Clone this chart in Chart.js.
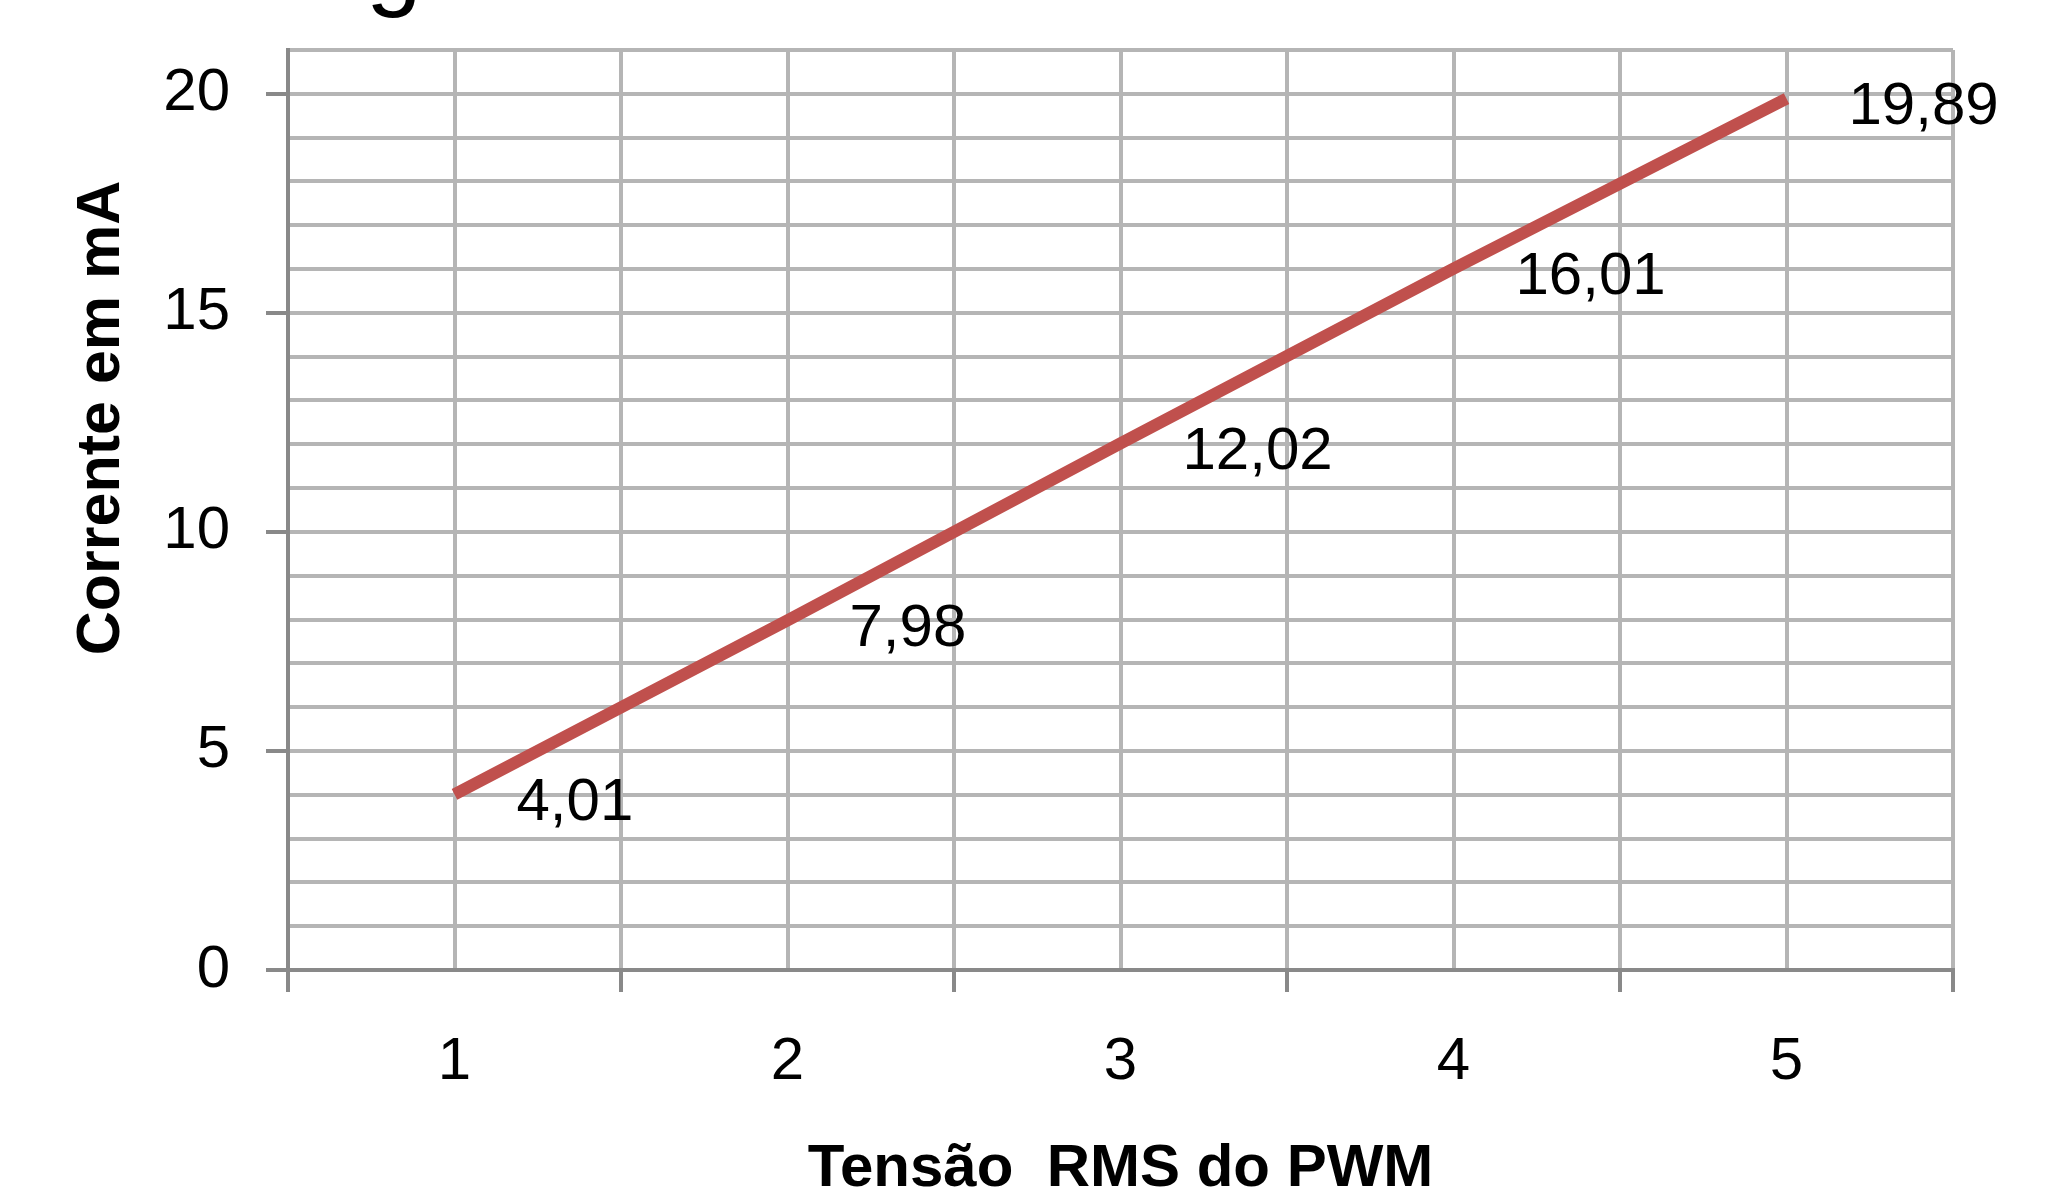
<!DOCTYPE html>
<html>
<head>
<meta charset="utf-8">
<script src="https://cdn.jsdelivr.net/npm/chart.js@4.4.1/dist/chart.umd.min.js"></script>
<style>
    html, body { margin: 0; padding: 0; background: #fff; }
    #wrap { width: 2050px; height: 1190px; }
</style>
</head>
<body>
<div id="wrap"><canvas id="chart" width="2050" height="1190"></canvas></div>
<script>
// Corrente x Tensao RMS do PWM
const categories = ['1', '2', '3', '4', '5'];
const corrente = [4.01, 7.98, 12.02, 16.01, 19.89];
const yTickLabels = [0, 5, 10, 15, 20];
const yMax = 21;

const xTitle = 'Tensão  RMS do PWM';
const yTitle = 'Corrente em mA';
const titleFragment = 'g';

const GRID = '#b5b5b5';
const AXIS = '#898989';
const RED = '#c0504d';
const FONT = '"Liberation Sans", Arial, sans-serif';

const points = categories.map((c, i) => ({ x: i + 1, y: corrente[i] }));

const textPlugin = {
    id: 'excelText',
    afterDatasetsDraw(chart) {
        const ctx = chart.ctx;
        const meta = chart.getDatasetMeta(0);
        ctx.save();
        ctx.fillStyle = '#000';
        ctx.font = '60px ' + FONT;
        ctx.textAlign = 'left';
        ctx.textBaseline = 'middle';
        meta.data.forEach((pt, i) => {
            ctx.fillText(corrente[i].toFixed(2).replace('.', ','), pt.x + 62, pt.y + 9);
        });
        ctx.restore();
    },
    afterDraw(chart) {
        const ctx = chart.ctx;
        const area = chart.chartArea;
        ctx.save();
        ctx.fillStyle = '#000';
        // axis titles
        ctx.font = 'bold 60px ' + FONT;
        ctx.textAlign = 'center';
        ctx.textBaseline = 'alphabetic';
        ctx.fillText(xTitle, (area.left + area.right) / 2, 1186);
        ctx.save();
        ctx.translate(102, 418);
        ctx.rotate(-Math.PI / 2);
        ctx.textBaseline = 'middle';
        ctx.font = 'bold 61px ' + FONT;
        ctx.fillText(yTitle, 0, 0);
        ctx.restore();
        // bottom of the cut-off chart title
        ctx.font = '100px ' + FONT;
        ctx.textAlign = 'left';
        ctx.fillText(titleFragment, 366, -3);
        ctx.restore();
    }
};

new Chart(document.getElementById('chart').getContext('2d'), {
    type: 'line',
    data: {
        datasets: [{
            data: points,
            borderColor: RED,
            borderWidth: 12,
            borderCapStyle: 'butt',
            pointRadius: 0,
            tension: 0,
            fill: false
        }]
    },
    options: {
        responsive: false,
        animation: false,
        layout: { padding: { top: 50, right: 97, left: 0, bottom: 0 } },
        plugins: {
            legend: { display: false },
            tooltip: { enabled: false }
        },
        scales: {
            x: {
                type: 'linear',
                min: 0.5,
                max: 5.5,
                afterFit: s => { s.height = 220; s.paddingLeft = 0; s.paddingRight = 0; },
                ticks: {
                    stepSize: 0.5,
                    autoSkip: false,
                    maxRotation: 0,
                    padding: 34,
                    color: '#000',
                    font: { family: FONT, size: 60 },
                    callback: v => Number.isInteger(v) ? categories[v - 1] : ''
                },
                grid: {
                    color: GRID,
                    lineWidth: 4,
                    tickLength: 22,
                    tickWidth: 4,
                    tickColor: c => (c.tick && !Number.isInteger(c.tick.value)) ? AXIS : 'rgba(0,0,0,0)'
                },
                border: { color: AXIS, width: 4 }
            },
            y: {
                min: 0,
                max: yMax,
                afterFit: s => { s.width = 288; s.paddingTop = 0; s.paddingBottom = 0; },
                ticks: {
                    stepSize: 1,
                    autoSkip: false,
                    padding: 36,
                    color: '#000',
                    font: { family: FONT, size: 60 },
                    callback: v => yTickLabels.includes(v) ? String(v) : ''
                },
                grid: {
                    color: GRID,
                    lineWidth: 4,
                    tickLength: 22,
                    tickWidth: 4,
                    tickColor: c => (c.tick && yTickLabels.includes(c.tick.value)) ? AXIS : 'rgba(0,0,0,0)'
                },
                border: { color: AXIS, width: 4 }
            }
        }
    },
    plugins: [textPlugin]
});
</script>
</body>
</html>
